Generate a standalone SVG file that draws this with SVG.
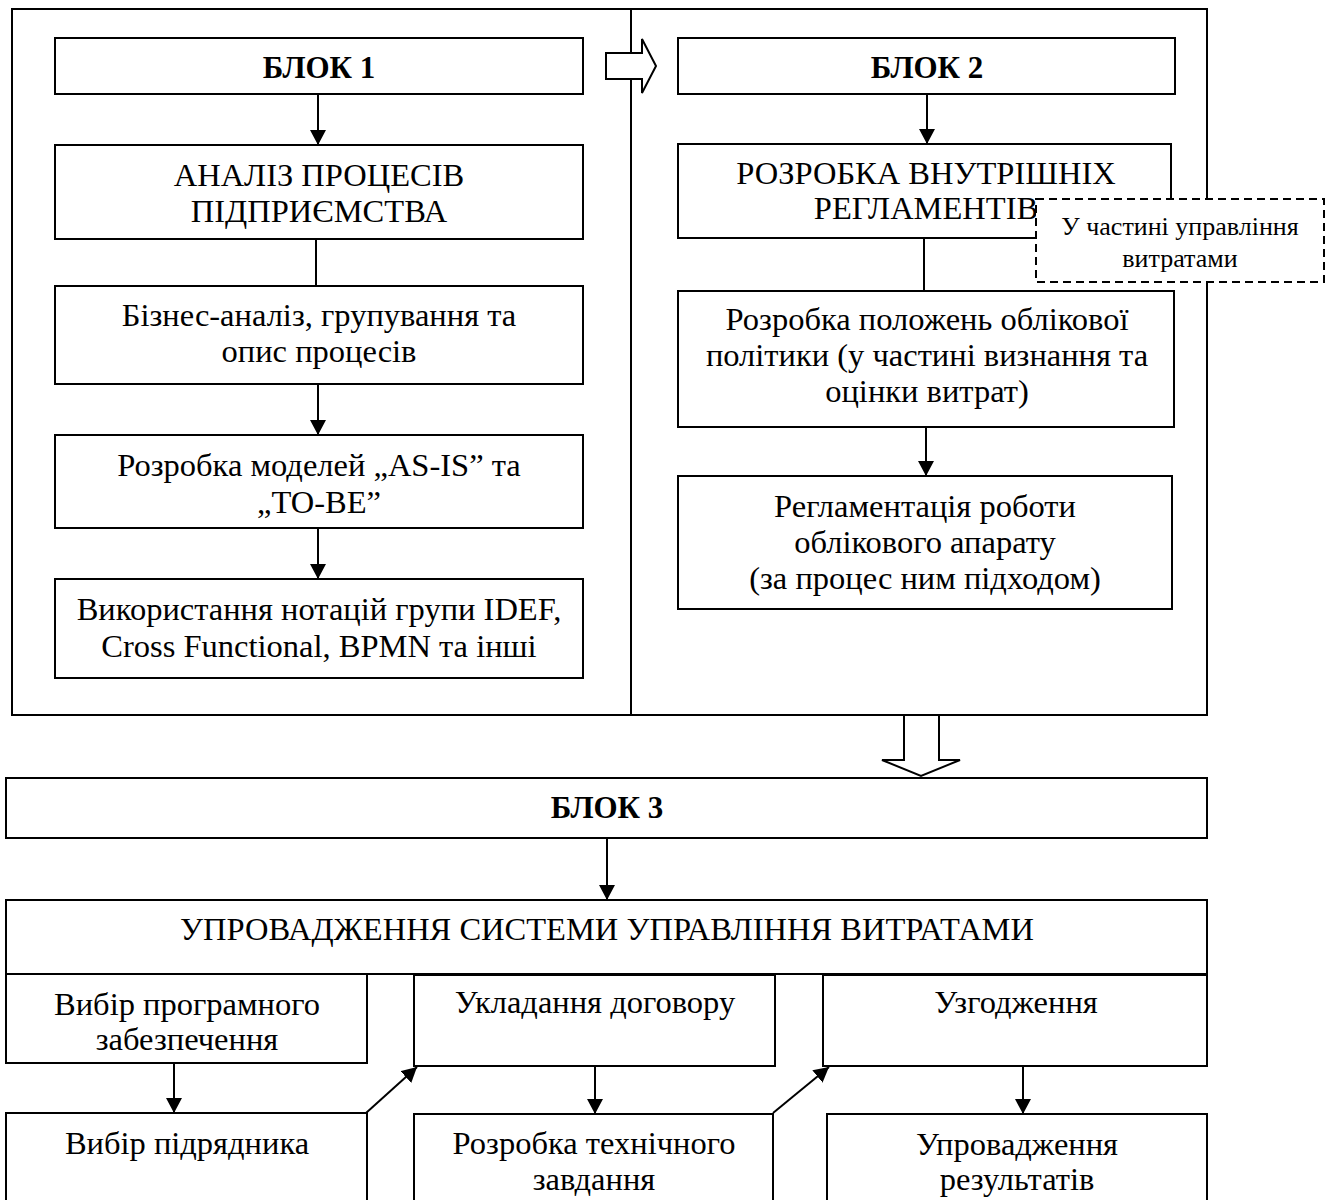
<svg xmlns="http://www.w3.org/2000/svg" width="1330" height="1200" viewBox="0 0 1330 1200">
<defs>
<style>
.box{fill:#fff;stroke:#000;stroke-width:2}
.frame{fill:none;stroke:#000;stroke-width:2}
.dash{fill:#fff;stroke:#000;stroke-width:2;stroke-dasharray:8 5}
.t{font-family:"Liberation Serif","Times New Roman",serif;font-size:32.5px;fill:#000;text-anchor:middle}
.b{font-weight:bold;font-size:31px}
.s{font-size:26px}
.c{fill:none;stroke:#000;stroke-width:2}
.ha{fill:#fff;stroke:#000;stroke-width:2;stroke-linejoin:miter}
</style>
<marker id="ah" markerUnits="userSpaceOnUse" markerWidth="16" markerHeight="16" refX="15" refY="8" orient="auto">
<path d="M0,0 L15,8 L0,16 z" fill="#000"/>
</marker>
</defs>
<rect width="1330" height="1200" fill="#fff"/>

<g id="frame">
<rect class="frame" x="12" y="9" width="1195" height="706"/>
<line class="frame" x1="631" y1="9" x2="631" y2="715"/>
</g>

<g id="connectors">
<line class="c" x1="318" y1="94" x2="318" y2="145" marker-end="url(#ah)"/>
<line class="c" x1="316" y1="239" x2="316" y2="286"/>
<line class="c" x1="318" y1="384" x2="318" y2="435" marker-end="url(#ah)"/>
<line class="c" x1="318" y1="528" x2="318" y2="579" marker-end="url(#ah)"/>
<line class="c" x1="927" y1="94" x2="927" y2="144" marker-end="url(#ah)"/>
<line class="c" x1="924" y1="238" x2="924" y2="291"/>
<line class="c" x1="926" y1="427" x2="926" y2="476" marker-end="url(#ah)"/>
<polygon id="arrow-b1-b2" class="ha" points="606,53 642,53 642,39 656,66 642,93 642,79 606,79"/>
<polygon id="arrow-b2-b3" class="ha" points="904,715 939,715 939,760 960,760 921,776 882,760 904,760"/>
<line class="c" x1="607" y1="838" x2="607" y2="900" marker-end="url(#ah)"/>
<line class="c" x1="174" y1="1063" x2="174" y2="1113" marker-end="url(#ah)"/>
<line class="c" x1="366" y1="1113" x2="417" y2="1067" marker-end="url(#ah)"/>
<line class="c" x1="595" y1="1066" x2="595" y2="1114" marker-end="url(#ah)"/>
<line class="c" x1="773" y1="1113" x2="829" y2="1067" marker-end="url(#ah)"/>
<line class="c" x1="1023" y1="1066" x2="1023" y2="1114" marker-end="url(#ah)"/>
</g>

<g id="blok1">
<rect class="box" x="55" y="38" width="528" height="56"/>
<text class="t b" x="319" y="78">БЛОК 1</text>
</g>
<g id="analiz">
<rect class="box" x="55" y="145" width="528" height="94"/>
<text class="t" x="319" y="186">АНАЛІЗ ПРОЦЕСІВ</text>
<text class="t" x="319" y="222">ПІДПРИЄМСТВА</text>
</g>
<g id="biznes">
<rect class="box" x="55" y="286" width="528" height="98"/>
<text class="t" x="319" y="326">Бізнес-аналіз, групування та</text>
<text class="t" x="319" y="362">опис процесів</text>
</g>
<g id="modeli">
<rect class="box" x="55" y="435" width="528" height="93"/>
<text class="t" x="319" y="476">Розробка моделей „AS-IS” та</text>
<text class="t" x="319" y="513">„TO-BE”</text>
</g>
<g id="notatsii">
<rect class="box" x="55" y="579" width="528" height="99"/>
<text class="t" x="319" y="620">Використання нотацій групи IDEF,</text>
<text class="t" x="319" y="657">Cross Functional, BPMN та інші</text>
</g>

<g id="blok2">
<rect class="box" x="678" y="38" width="497" height="56"/>
<text class="t b" x="927" y="78">БЛОК 2</text>
</g>
<g id="rozrobka">
<rect class="box" x="678" y="144" width="493" height="94"/>
<text class="t" x="926" y="184">РОЗРОБКА ВНУТРІШНІХ</text>
<text class="t" x="926" y="219">РЕГЛАМЕНТІВ</text>
</g>
<g id="note">
<rect class="dash" x="1036" y="199" width="288" height="83"/>
<text class="t s" x="1180" y="235">У частині управління</text>
<text class="t s" x="1180" y="267">витратами</text>
</g>
<g id="polozhennia">
<rect class="box" x="678" y="291" width="496" height="136"/>
<text class="t" x="927" y="330">Розробка положень облікової</text>
<text class="t" x="927" y="366">політики (у частині визнання та</text>
<text class="t" x="927" y="402">оцінки витрат)</text>
</g>
<g id="reglament">
<rect class="box" x="678" y="476" width="494" height="133"/>
<text class="t" x="925" y="517">Регламентація роботи</text>
<text class="t" x="925" y="553">облікового апарату</text>
<text class="t" x="925" y="589">(за процес ним підходом)</text>
</g>

<g id="blok3">
<rect class="box" x="6" y="778" width="1201" height="60"/>
<text class="t b" x="607" y="818">БЛОК 3</text>
</g>
<g id="uprovadzhennia-systemy">
<rect class="box" x="6" y="900" width="1201" height="74"/>
<text class="t" x="607" y="940">УПРОВАДЖЕННЯ СИСТЕМИ УПРАВЛІННЯ ВИТРАТАМИ</text>
</g>
<g id="vybir-pz">
<rect class="box" x="6" y="974" width="361" height="89"/>
<text class="t" x="187" y="1015">Вибір програмного</text>
<text class="t" x="187" y="1050">забезпечення</text>
</g>
<g id="ukladannia">
<rect class="box" x="414" y="975" width="361" height="91"/>
<text class="t" x="595" y="1013">Укладання договору</text>
</g>
<g id="uzgodzhennia">
<rect class="box" x="823" y="975" width="384" height="91"/>
<text class="t" x="1016" y="1013">Узгодження</text>
</g>
<g id="vybir-pidriadnyka">
<rect class="box" x="6" y="1113" width="361" height="100"/>
<text class="t" x="187" y="1154">Вибір підрядника</text>
</g>
<g id="tz">
<rect class="box" x="414" y="1114" width="359" height="100"/>
<text class="t" x="594" y="1154">Розробка технічного</text>
<text class="t" x="594" y="1190">завдання</text>
</g>
<g id="rezultaty">
<rect class="box" x="827" y="1114" width="380" height="100"/>
<text class="t" x="1017" y="1155">Упровадження</text>
<text class="t" x="1017" y="1190">результатів</text>
</g>
</svg>
